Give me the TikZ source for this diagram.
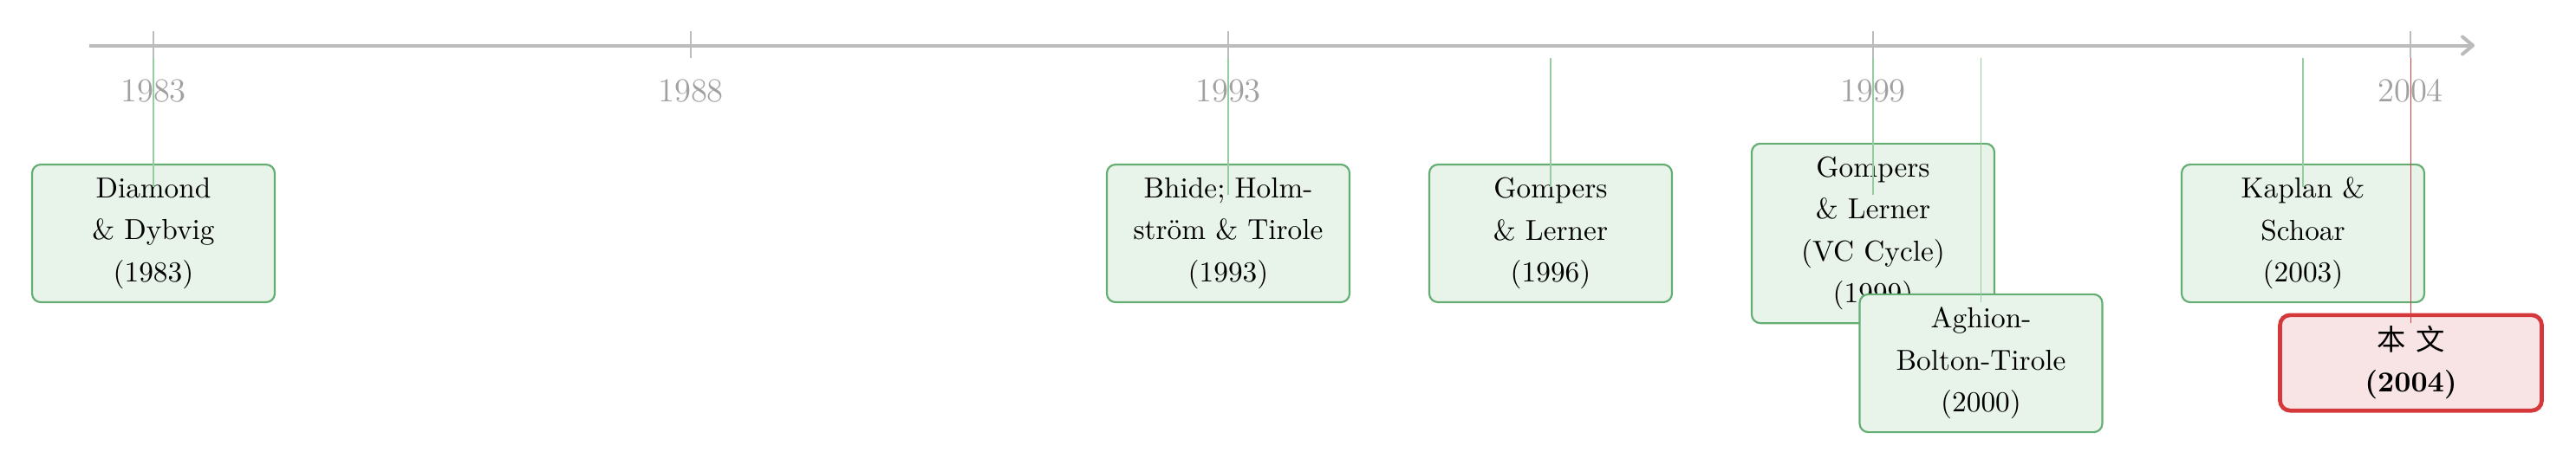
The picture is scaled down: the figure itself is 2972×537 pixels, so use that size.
\documentclass[tikz,border=0pt]{standalone}
\usepackage{fontspec}
\newfontfamily\cjk{Noto Sans CJK SC}
\usetikzlibrary{arrows.meta,calc}
\definecolor{axisgray}{RGB}{187,187,187}
\definecolor{labgray}{RGB}{160,160,160}
\definecolor{linkgreen}{RGB}{150,204,160}
\definecolor{boxgreen}{RGB}{100,174,116}
\definecolor{fillgreen}{RGB}{232,243,233}
\definecolor{boxred}{RGB}{212,56,58}
\definecolor{fillred}{RGB}{248,228,229}
\definecolor{linkred}{RGB}{208,64,66}
\begin{document}
\begin{tikzpicture}[x=0.3pt,y=-0.3pt,
  axisline/.style={draw=axisgray,line width=1.2pt,-{Straight Barb[length=3.6pt,width=6pt,round]}},
  tickline/.style={draw=axisgray,line width=0.4pt},
  yearlab/.style={text=labgray,font=\fontsize{11.6}{13.5}\selectfont,inner sep=0pt},
  paper/.style={draw=boxgreen,fill=fillgreen,line width=0.65pt,rounded corners=3pt,
    text width=72pt,inner xsep=6pt,inner ysep=4.5pt,minimum height=47.7pt,
    align=center,font=\fontsize{10}{14.55}\selectfont},
  thispaper/.style={draw=boxred,fill=fillred,line width=1.4pt,rounded corners=3.5pt,
    text width=80pt,inner xsep=5.3pt,inner ysep=2pt,minimum height=33.1pt,
    align=center,font=\fontsize{10}{14.4}\selectfont},
  link/.style={draw=linkgreen,line width=0.4pt},
  thislink/.style={draw=linkred,line width=0.5pt}]
\useasboundingbox (0,0) rectangle (2972,537);
% axis
\coordinate (axs) at (102.7,52.5);
\coordinate (axe) at (2855,52.5);
\draw[axisline] (axs) -- (axe);
\foreach \x/\yr in {177/1983, 797/1988, 1417/1993, 2161/1999, 2781/2004} {
  \draw[tickline] (\x,36) -- (\x,67);
  \node[yearlab] (y\yr) at (\x,105) {\yr};
}
% boxes
\node[paper] (b83) at (177,269.5) {Diamond\\\& Dybvig\\(1983)};
\node[paper] (b93) at (1417,269.5) {Bhide; Holm-\\ström \& Tirole\\(1993)};
\node[paper] (b96) at (1789,269.5) {Gompers\\\& Lerner\\(1996)};
\node[paper,minimum height=62.1pt] (b99) at (2161,269.5) {Gompers\\\& Lerner\\(VC Cycle)\\(1999)};
\node[paper] (b00) at (2285.5,419.5) {Aghion-\\Bolton-Tirole\\(2000)};
\node[paper] (b03) at (2657,269.5) {Kaplan \&\\Schoar\\(2003)};
\node[thispaper] (b04) at (2781.5,419) {{\cjk 本\hspace{0.35em}文}\\\textbf{(2004)}};
% connectors
\coordinate (t83) at (177,66.7);
\coordinate (t93) at (1417,66.7);
\coordinate (t96) at (1789,66.7);
\coordinate (t99) at (2161,66.7);
\coordinate (t00) at (2285.5,66.7);
\coordinate (t03) at (2657,66.7);
\coordinate (t04) at (2781.5,66.7);
\draw[link] (t83) -- ($(b83.north)+(0,27)$);
\draw[link] (t93) -- ($(b93.north)+(0,36)$);
\draw[link] (t96) -- ($(b96.north)+(0,27)$);
\draw[link] (t99) -- ($(b99.north)+(0,60)$);
\draw[link] (t00) -- ($(b00.north)+(0,10)$);
\draw[link] (t03) -- ($(b03.north)+(0,27)$);
\draw[thislink] (t04) -- ($(b04.north)+(0,11.5)$);
\end{tikzpicture}
\end{document}
